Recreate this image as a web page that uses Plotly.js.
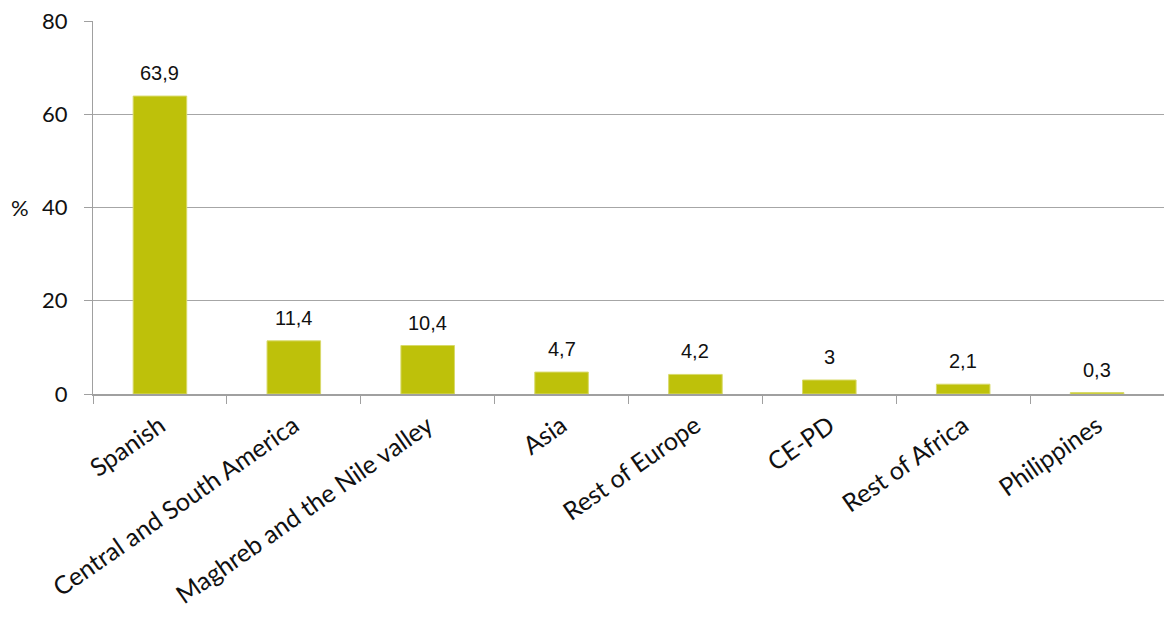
<!DOCTYPE html>
<html>
<head>
<meta charset="utf-8">
<script src="https://cdn.plot.ly/plotly-3.0.1.min.js"></script>
<style>html,body{margin:0;padding:0;background:#fff;}#chart{width:1164px;height:621px;}</style>
</head>
<body>
<div id="chart"></div>
<script>
var categories = ["Spanish", "Central and South America", "Maghreb and the Nile valley", "Asia", "Rest of Europe", "CE-PD", "Rest of Africa", "Philippines"];
var values = [63.9, 11.4, 10.4, 4.7, 4.2, 3, 2.1, 0.3];
var yTicks = [0, 20, 40, 60, 80];

function fmt(v) { return String(v).replace('.', ','); }

var trace = {
  type: 'bar',
  x: categories,
  y: values,
  width: 0.4,
  marker: { color: '#BEC10A', line: { color: '#D8DA6A', width: 1 } },
  hoverinfo: 'none'
};

var annotations = categories.map(function (c, i) {
  return {
    x: c, y: values[i], xref: 'x', yref: 'y',
    text: fmt(values[i]), showarrow: false,
    yanchor: 'bottom', yshift: 10,
    font: { family: 'Liberation Sans, Arial, sans-serif', size: 20, color: '#111' }
  };
});
annotations.push({
  x: 0, xref: 'paper', y: 40, yref: 'y', xanchor: 'center', xshift: -73,
  text: '%', showarrow: false,
  font: { family: 'Lato, sans-serif', size: 22, color: '#111' }
});

var layout = {
  width: 1164, height: 621,
  margin: { l: 93, r: 0, t: 21, b: 227 },
  paper_bgcolor: '#fff', plot_bgcolor: '#fff',
  showlegend: false,
  bargap: 0.6,
  xaxis: {
    type: 'category',
    tickson: 'boundaries',
    ticks: 'outside', ticklen: 8, tickcolor: '#A0A0A0', tickwidth: 1,
    showline: true, linecolor: '#A0A0A0', linewidth: 1.5,
    showgrid: false,
    tickangle: -35,
    ticklabelstandoff: 6,
    tickfont: { family: 'Lato, sans-serif', size: 25, color: '#111' }
  },
  yaxis: {
    range: [0, 80],
    tickvals: yTicks,
    ticktext: yTicks.map(String),
    ticks: 'outside', ticklen: 8, tickcolor: '#A0A0A0', tickwidth: 1,
    showline: true, linecolor: '#A0A0A0', linewidth: 1,
    showgrid: true, gridcolor: '#A6A6A6', gridwidth: 1,
    zeroline: false,
    ticklabelstandoff: 12,
    tickfont: { family: 'Lato, sans-serif', size: 22, color: '#111' }
  },
  annotations: annotations
};

Plotly.newPlot('chart', [trace], layout, { displayModeBar: false, staticPlot: true });
</script>
</body>
</html>
